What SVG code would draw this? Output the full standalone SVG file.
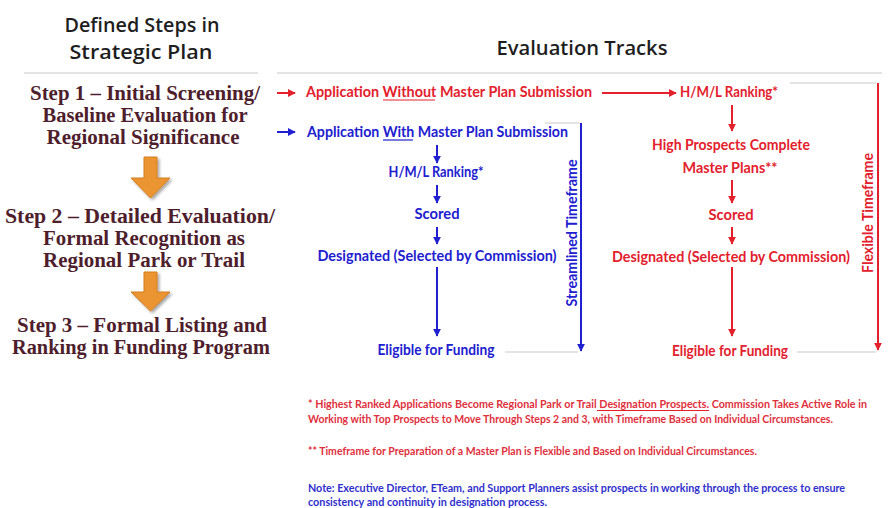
<svg xmlns="http://www.w3.org/2000/svg" width="890" height="508" viewBox="0 0 890 508">
<style>
.title{font-family:"Open Sans","Liberation Sans",sans-serif;font-size:19px;fill:#1e1e1e;text-anchor:middle;font-weight:600}
.step{font-family:"Liberation Serif","Times New Roman",serif;font-weight:bold;font-size:20px;fill:#4e1e2c;text-anchor:middle}
.r{font-family:"Lato","Open Sans",sans-serif;font-size:15px;fill:#e3202c;font-weight:bold}
.b{font-family:"Lato","Open Sans",sans-serif;font-size:15px;fill:#2020d0;font-weight:bold}
.rc{text-anchor:middle}
.fr{font-family:"Lato","Open Sans",sans-serif;font-size:11px;fill:#e0303c;font-weight:bold}
.fb{font-family:"Lato","Open Sans",sans-serif;font-size:11px;fill:#3030cc;font-weight:bold}
.sep{stroke:#e4e4e4;stroke-width:2;fill:none}
.lr{stroke:#e3202c;stroke-width:2;fill:none}
.lb{stroke:#2020d0;stroke-width:2;fill:none}
.ur{stroke:#e3202c;stroke-width:1.2}
.ub{stroke:#2020d0;stroke-width:1.2}
.orange{fill:#eb9431;stroke:#d47e1e;stroke-width:1}
</style>
<defs>
<marker id="ar" viewBox="0 0 10 10" refX="9" refY="5" markerWidth="4" markerHeight="4" orient="auto" markerUnits="strokeWidth"><path d="M0,0 L10,5 L0,10 z" fill="#e3202c"/></marker>
<marker id="ab" viewBox="0 0 10 10" refX="9" refY="5" markerWidth="4" markerHeight="4" orient="auto" markerUnits="strokeWidth"><path d="M0,0 L10,5 L0,10 z" fill="#2020d0"/></marker>
<filter id="sh" x="-30%" y="-30%" width="160%" height="160%"><feGaussianBlur in="SourceAlpha" stdDeviation="1.5"/><feOffset dx="2" dy="2"/><feComponentTransfer><feFuncA type="linear" slope="0.35"/></feComponentTransfer><feMerge><feMergeNode/><feMergeNode in="SourceGraphic"/></feMerge></filter>
</defs>
<rect width="890" height="508" fill="#ffffff"/>

<g id="headers">
<text class="title" x="142" y="32" textLength="155" lengthAdjust="spacingAndGlyphs">Defined Steps in</text>
<text class="title" x="141" y="59" textLength="143" lengthAdjust="spacingAndGlyphs">Strategic Plan</text>
<text class="title" x="582" y="55" textLength="171" lengthAdjust="spacingAndGlyphs">Evaluation Tracks</text>
<line class="sep" x1="24" y1="73" x2="258" y2="73"/>
<line class="sep" x1="277" y1="73" x2="882" y2="73"/>
</g>

<g id="step1">
<text class="step" x="145" y="100" textLength="230" lengthAdjust="spacingAndGlyphs">Step 1 – Initial Screening/</text>
<text class="step" x="145" y="122" textLength="205" lengthAdjust="spacingAndGlyphs">Baseline Evaluation for</text>
<text class="step" x="143" y="144" textLength="193" lengthAdjust="spacingAndGlyphs">Regional Significance</text>
</g>
<g id="step2">
<text class="step" x="140" y="223" textLength="270" lengthAdjust="spacingAndGlyphs">Step 2 – Detailed Evaluation/</text>
<text class="step" x="144" y="245" textLength="202" lengthAdjust="spacingAndGlyphs">Formal Recognition as</text>
<text class="step" x="144" y="267" textLength="202" lengthAdjust="spacingAndGlyphs">Regional Park or Trail</text>
</g>
<g id="step3">
<text class="step" x="142" y="332" textLength="250" lengthAdjust="spacingAndGlyphs">Step 3 – Formal Listing and</text>
<text class="step" x="141" y="354" textLength="258" lengthAdjust="spacingAndGlyphs">Ranking in Funding Program</text>
</g>

<g id="step-arrows" filter="url(#sh)">
<path class="orange" d="M144,157 H157 V178 H170 L150.5,198 L131,178 H144 Z"/>
<path class="orange" d="M144,272 H157 V292 H170 L150.5,311 L131,292 H144 Z"/>
</g>

<g id="red-app"><text class="r" x="306" y="97" textLength="286" lengthAdjust="spacingAndGlyphs">Application Without Master Plan Submission</text>
<line class="ur" x1="383" y1="100" x2="435" y2="100"/></g>
<g id="red-rank"><text class="r" x="680" y="97" textLength="98" lengthAdjust="spacingAndGlyphs">H/M/L Ranking*</text></g>
<g id="red-master"><text class="r rc" x="731" y="150" textLength="158" lengthAdjust="spacingAndGlyphs">High Prospects Complete</text>
<text class="r rc" x="730" y="173" textLength="95" lengthAdjust="spacingAndGlyphs">Master Plans**</text></g>
<g id="red-scored"><text class="r rc" x="731" y="220" textLength="45" lengthAdjust="spacingAndGlyphs">Scored</text></g>
<g id="red-designated"><text class="r rc" x="731" y="262" textLength="238" lengthAdjust="spacingAndGlyphs">Designated (Selected by Commission)</text></g>
<g id="red-eligible"><text class="r rc" x="730" y="356" textLength="116" lengthAdjust="spacingAndGlyphs">Eligible for Funding</text></g>
<g id="red-timeframe"><text class="r rc" transform="translate(867,213) rotate(-90)" dominant-baseline="central" textLength="120" lengthAdjust="spacingAndGlyphs">Flexible Timeframe</text></g>

<g id="blue-app"><text class="b" x="307" y="137" textLength="261" lengthAdjust="spacingAndGlyphs">Application With Master Plan Submission</text>
<line class="ub" x1="383" y1="140" x2="413" y2="140"/></g>
<g id="blue-rank"><text class="b rc" x="436" y="177" textLength="95" lengthAdjust="spacingAndGlyphs">H/M/L Ranking*</text></g>
<g id="blue-scored"><text class="b rc" x="437" y="219" textLength="45" lengthAdjust="spacingAndGlyphs">Scored</text></g>
<g id="blue-designated"><text class="b rc" x="437" y="261" textLength="239" lengthAdjust="spacingAndGlyphs">Designated (Selected by Commission)</text></g>
<g id="blue-eligible"><text class="b rc" x="436" y="355" textLength="117" lengthAdjust="spacingAndGlyphs">Eligible for Funding</text></g>
<g id="blue-timeframe"><text class="b rc" transform="translate(571,233) rotate(-90)" dominant-baseline="central" textLength="147" lengthAdjust="spacingAndGlyphs">Streamlined Timeframe</text></g>

<g id="connectors">
<line class="sep" x1="545" y1="123" x2="580" y2="123" stroke-width="1.5"/>
<line class="sep" x1="505" y1="352" x2="578" y2="352" stroke-width="1.5"/>
<line class="sep" x1="790" y1="83" x2="876" y2="83" stroke-width="1.5"/>
<line class="sep" x1="797" y1="352" x2="876" y2="352" stroke-width="1.5"/>
<line class="lr" x1="277" y1="93" x2="295" y2="93" marker-end="url(#ar)"/>
<line class="lb" x1="277" y1="132" x2="295" y2="132" marker-end="url(#ab)"/>
<line class="lr" x1="602" y1="93" x2="676" y2="93" marker-end="url(#ar)"/>
<line class="lr" x1="732" y1="105" x2="732" y2="131" marker-end="url(#ar)"/>
<line class="lr" x1="732" y1="180" x2="732" y2="203" marker-end="url(#ar)"/>
<line class="lr" x1="732" y1="227" x2="732" y2="244" marker-end="url(#ar)"/>
<line class="lr" x1="732" y1="267" x2="732" y2="336" marker-end="url(#ar)"/>
<line class="lb" x1="437" y1="145" x2="437" y2="163" marker-end="url(#ab)"/>
<line class="lb" x1="437" y1="185" x2="437" y2="203" marker-end="url(#ab)"/>
<line class="lb" x1="437" y1="227" x2="437" y2="244" marker-end="url(#ab)"/>
<line class="lb" x1="437" y1="267" x2="437" y2="336" marker-end="url(#ab)"/>
<line class="lb" x1="581" y1="123" x2="581" y2="351" marker-end="url(#ab)"/>
<line class="lr" x1="878" y1="83" x2="878" y2="350" marker-end="url(#ar)"/>
</g>

<g id="footnotes">
<text class="fr" x="308" y="408" textLength="559" lengthAdjust="spacingAndGlyphs">*  Highest Ranked Applications Become Regional Park or Trail Designation Prospects.  Commission Takes Active Role in</text>
<line class="ur" x1="597" y1="410.5" x2="709" y2="410.5" stroke-width="1"/>
<text class="fr" x="308" y="423" textLength="525" lengthAdjust="spacingAndGlyphs">Working with Top Prospects to Move Through Steps 2 and 3, with Timeframe Based on Individual Circumstances.</text>
<text class="fr" x="308" y="455" textLength="449" lengthAdjust="spacingAndGlyphs">** Timeframe for Preparation of a Master Plan is Flexible and Based on Individual Circumstances.</text>
<text class="fb" x="308" y="492" textLength="537" lengthAdjust="spacingAndGlyphs">Note: Executive Director, ETeam, and Support Planners assist prospects in working through the process to ensure</text>
<text class="fb" x="308" y="506" textLength="239" lengthAdjust="spacingAndGlyphs">consistency and continuity in designation process.</text>
</g>
</svg>
